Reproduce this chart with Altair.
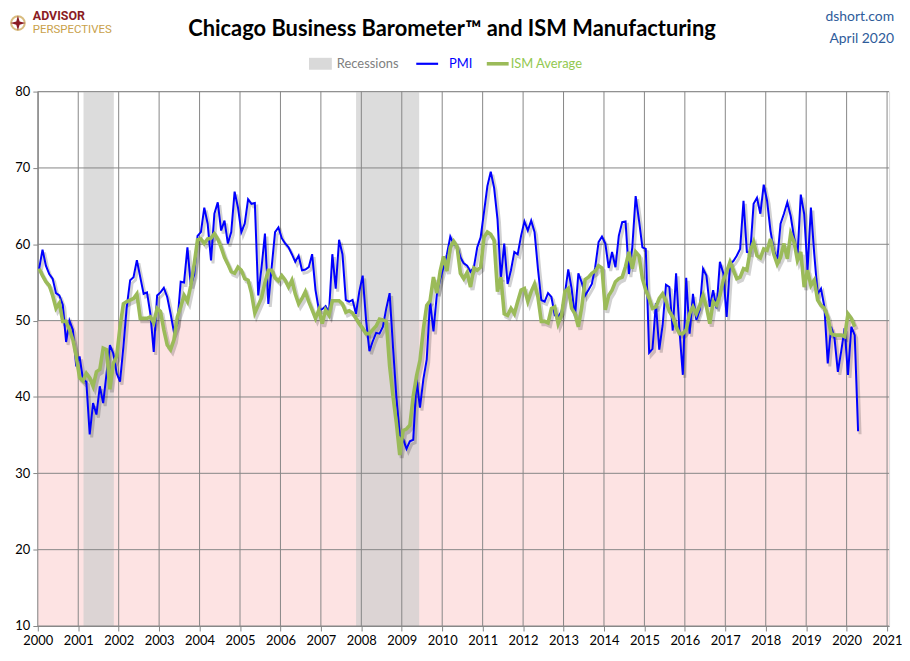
import pandas as pd
import altair as alt

# Chicago PMI, monthly from Jan 2000 (one row per year)
pmi = [
    56.8, 59.3, 57.2, 56.1, 55.5, 53.6, 53.3, 52.1, 47.2, 50.0, 48.8, 44.0,  # 2000
    45.3, 42.3, 42.0, 35.1, 39.2, 37.7, 41.4, 39.2, 43.1, 46.8, 45.7, 43.1,  # 2001
    42.0, 46.6, 51.8, 55.3, 55.7, 57.9, 55.7, 53.5, 53.7, 50.9, 45.9, 53.3,  # 2002
    53.7, 54.3, 53.1, 50.9, 48.5, 49.6, 55.1, 55.0, 59.6, 54.6, 56.0, 61.1,  # 2003
    61.6, 64.8, 62.7, 57.9, 64.0, 65.5, 61.8, 63.1, 60.1, 61.6, 66.9, 64.8,  # 2004
    61.6, 62.7, 65.9, 65.3, 65.4, 53.3, 57.0, 61.4, 52.2, 57.0, 61.6, 62.2,  # 2005
    60.8, 60.1, 59.6, 58.7, 57.7, 58.5, 56.6, 56.7, 57.0, 58.7, 54.0, 51.4,  # 2006
    51.5, 51.9, 51.0, 58.7, 54.2, 60.6, 58.7, 52.7, 52.5, 52.7, 50.9, 53.8,  # 2007
    55.9, 50.1, 46.0, 47.3, 48.4, 48.3, 49.2, 51.6, 53.6, 46.5, 40.0, 35.0,  # 2008
    34.5, 33.2, 34.2, 34.4, 42.3, 38.6, 42.3, 44.9, 52.6, 48.6, 53.4, 55.4,  # 2009
    57.0, 58.7, 61.0, 60.0, 59.8, 58.3, 57.5, 57.2, 56.4, 57.0, 59.6, 60.9,  # 2010
    64.2, 67.6, 69.5, 67.4, 63.3, 55.5, 60.1, 54.8, 56.6, 59.0, 58.7, 61.1,  # 2011
    63.0, 61.8, 63.1, 61.6, 56.8, 52.7, 52.5, 53.6, 53.1, 50.7, 50.5, 51.2,  # 2012
    53.5, 56.7, 54.2, 50.5, 56.2, 55.0, 53.3, 54.0, 54.8, 57.0, 60.3, 61.0,  # 2013
    60.1, 56.9, 59.0, 57.0, 61.1, 62.9, 63.0, 56.1, 59.6, 66.3, 63.1, 59.6,  # 2014
    59.4, 45.8, 46.3, 52.3, 46.2, 49.4, 54.7, 54.4, 48.7, 56.2, 48.7, 42.9,  # 2015
    55.6, 48.3, 53.5, 50.1, 51.4, 56.8, 55.9, 51.8, 54.0, 51.6, 57.7, 56.2,  # 2016
    50.5, 57.4, 57.8, 58.5, 59.4, 65.7, 59.0, 58.9, 65.3, 66.1, 64.0, 67.8,  # 2017
    65.7, 61.8, 59.2, 57.9, 62.7, 64.0, 65.5, 63.7, 60.9, 58.3, 66.5, 64.0,  # 2018
    56.6, 64.8, 58.7, 53.5, 54.2, 51.8, 44.4, 49.2, 47.7, 43.3, 46.0, 49.0,  # 2019
    42.9, 49.2, 48.1, 35.5,                                                  # 2020
]

# ISM average, monthly from Jan 2000
ism = [
    56.8, 55.9, 55.1, 54.6, 53.3, 51.6, 52.3, 49.9, 49.9, 48.8, 47.5, 45.3,  # 2000
    42.5, 42.1, 43.1, 42.5, 41.4, 43.3, 43.6, 46.4, 46.2, 41.0, 44.4, 45.3,  # 2001
    49.2, 52.2, 52.5, 52.7, 52.9, 53.5, 50.3, 50.3, 50.3, 50.5, 49.7, 51.6,  # 2002
    51.2, 48.8, 46.8, 46.2, 47.5, 50.5, 51.8, 53.3, 52.5, 54.6, 57.4, 60.6,  # 2003
    60.7, 60.1, 60.7, 60.8, 61.4, 60.7, 59.6, 58.3, 57.4, 56.4, 56.2, 57.0,  # 2004
    56.6, 55.5, 55.3, 53.6, 51.0, 52.0, 53.0, 55.0, 56.6, 56.6, 55.6, 55.2,  # 2005
    55.9, 55.3, 54.4, 55.3, 53.5, 52.2, 52.9, 53.8, 52.5, 51.4, 50.3, 51.4,  # 2006
    49.6, 51.4, 50.7, 52.6, 52.6, 52.6, 52.2, 51.1, 51.3, 51.0, 50.3, 49.6,  # 2007
    49.0, 48.3, 48.3, 48.8, 49.3, 50.2, 50.1, 49.9, 44.0, 40.1, 36.6, 32.4,  # 2008
    35.6, 35.8, 36.3, 40.1, 42.8, 44.8, 48.9, 52.0, 52.6, 55.7, 53.6, 56.5,  # 2009
    58.4, 56.5, 59.6, 60.4, 59.7, 56.2, 55.5, 56.3, 54.4, 56.9, 56.6, 57.0,  # 2010
    60.9, 61.6, 61.3, 60.5, 53.8, 55.7, 50.9, 50.7, 51.6, 50.9, 52.5, 54.0,  # 2011
    54.2, 52.5, 53.8, 54.8, 53.1, 49.9, 49.9, 49.7, 51.6, 51.8, 49.6, 50.7,  # 2012
    53.8, 54.2, 51.6, 50.9, 49.2, 51.8, 55.4, 55.7, 56.2, 56.5, 57.2, 56.9,  # 2013
    51.4, 53.3, 54.0, 55.1, 55.5, 55.7, 57.1, 59.0, 56.8, 59.0, 58.5, 55.5,  # 2014
    54.0, 52.9, 51.6, 51.8, 52.9, 53.5, 52.5, 51.2, 50.5, 49.2, 48.3, 48.3,  # 2015
    48.8, 50.9, 51.8, 50.9, 52.0, 53.3, 51.8, 49.6, 52.5, 52.0, 53.3, 55.3,  # 2016
    56.4, 57.7, 56.6, 55.5, 55.7, 56.8, 56.6, 59.2, 60.3, 58.5, 58.2, 59.4,  # 2017
    59.2, 60.7, 58.7, 57.4, 58.3, 60.1, 58.1, 61.4, 60.3, 57.9, 59.0, 54.4,  # 2018
    56.6, 54.6, 55.3, 52.7, 52.0, 51.6, 50.5, 48.3, 48.1, 48.1, 48.1, 47.9,  # 2019
    50.9, 50.3, 49.2,                                                        # 2020
]

recession_start = [2001.13, 2007.87]
recession_end = [2001.88, 2009.43]

year_ticks = list(range(2000, 2022))
value_ticks = list(range(10, 90, 10))
x_min, x_max = 2000, 2021.05
y_min, y_max = 10, 80
contraction_top = 50

FONT = "Lato"

def month_pos(n):
    return [2000 + (i + 0.4) / 12 for i in range(n)]

pmi_df = pd.DataFrame({"t": month_pos(len(pmi)), "value": pmi})
ism_df = pd.DataFrame({"t": month_pos(len(ism)), "value": ism})
rec_df = pd.DataFrame({"start": recession_start, "end": recession_end,
                       "lo": y_min, "hi": y_max})
pink_df = pd.DataFrame({"x0": [x_min], "x1": [x_max],
                        "y0": [y_min], "y1": [contraction_top]})
hgrid_df = pd.DataFrame({"v": value_ticks, "x0": x_min, "x1": x_max})
vgrid_df = pd.DataFrame({"yr": year_ticks, "y0": y_min, "y1": y_max})
dummy = pd.DataFrame({"a": [0]})

xs = alt.Scale(domain=[x_min, x_max], nice=False, zero=False)
ys = alt.Scale(domain=[y_min, y_max], nice=False, zero=False)

x_axis = alt.Axis(values=year_ticks, format="d", grid=False, title=None,
                  labelFont=FONT, labelFontSize=13, labelColor="#000000",
                  tickColor="#868686", domainColor="#868686", tickSize=5,
                  labelPadding=4, labelFlush=False)
y_axis = alt.Axis(values=value_ticks, grid=False, title=None,
                  labelFont=FONT, labelFontSize=13, labelColor="#000000",
                  tickColor="#868686", domainColor="#868686", tickSize=5,
                  labelPadding=3)

pink = alt.Chart(pink_df).mark_rect(color="#FDE3E3").encode(
    x=alt.X("x0:Q", scale=xs, axis=x_axis),
    x2="x1:Q",
    y=alt.Y("y0:Q", scale=ys, axis=y_axis),
    y2="y1:Q",
)

bands = alt.Chart(rec_df).mark_rect(color="#CFCFCF", opacity=0.72).encode(
    x="start:Q", x2="end:Q", y="lo:Q", y2="hi:Q"
)

hgrid = alt.Chart(hgrid_df).mark_rule(color="#868686", strokeWidth=1).encode(
    y="v:Q", x="x0:Q", x2="x1:Q"
)
vgrid = alt.Chart(vgrid_df).mark_rule(color="#868686", strokeWidth=1).encode(
    x="yr:Q", y="y0:Q", y2="y1:Q"
)

pmi_shadow = alt.Chart(pmi_df).mark_line(
    color="#000000", opacity=0.18, strokeWidth=3, xOffset=2, yOffset=3
).encode(x="t:Q", y="value:Q")
ism_shadow = alt.Chart(ism_df).mark_line(
    color="#000000", opacity=0.18, strokeWidth=4, xOffset=2, yOffset=3
).encode(x="t:Q", y="value:Q")

pmi_line = alt.Chart(pmi_df).mark_line(color="#0000FF", strokeWidth=2).encode(
    x="t:Q", y="value:Q"
)
ism_line = alt.Chart(ism_df).mark_line(color="#9BBB59", strokeWidth=3.6).encode(
    x="t:Q", y="value:Q"
)


def label(txt, x, y, size=13, color="#000000", weight="normal",
          align="left", font=FONT):
    return alt.Chart(dummy).mark_text(
        text=txt, font=font, fontSize=size, color=color, fontWeight=weight,
        align=align, baseline="middle"
    ).encode(x=alt.value(x), y=alt.value(y))


title = label("Chicago Business Barometer™ and ISM Manufacturing", 417, -63,
              size=22, weight="bold", align="center")
site = label("dshort.com", 862, -75, size=14, color="#2E5C9A", align="right")
date = label("April 2020", 862, -53, size=14, color="#2E5C9A", align="right")

logo_a = label("ADVISOR", -5, -76.5, size=12.5, color="#8B1C24", weight="bold",
               font="Roboto")
logo_b = label("PERSPECTIVES", -5, -61.5, size=11.5, color="#C9A14A",
               font="Roboto")
ring = alt.Chart(dummy).mark_point(
    shape="circle", size=190, filled=False, color="#C9A14A", strokeWidth=2
).encode(x=alt.value(-20), y=alt.value(-69))
star = alt.Chart(dummy).mark_point(
    shape="M0,-1L0.22,-0.22L1,0L0.22,0.22L0,1L-0.22,0.22L-1,0L-0.22,-0.22Z",
    size=230, filled=True, color="#8B1C24", opacity=1
).encode(x=alt.value(-20), y=alt.value(-69))

leg_rec = alt.Chart(dummy).mark_rect(color="#D9D9D9").encode(
    x=alt.value(273), x2=alt.value(296), y=alt.value(-34), y2=alt.value(-22)
)
leg_rec_t = label("Recessions", 301, -28, color="#808080")
leg_pmi = alt.Chart(dummy).mark_rule(color="#0000FF", strokeWidth=2.2).encode(
    x=alt.value(381), x2=alt.value(403), y=alt.value(-28)
)
leg_pmi_t = label("PMI", 414, -28, color="#0000FF")
leg_ism = alt.Chart(dummy).mark_rule(color="#9BBB59", strokeWidth=3.6).encode(
    x=alt.value(452), x2=alt.value(474), y=alt.value(-28)
)
leg_ism_t = label("ISM Average", 476, -28, color="#92C850")

chart = alt.layer(
    pink, bands, hgrid, vgrid, pmi_shadow, ism_shadow, pmi_line, ism_line,
    title, site, date, logo_a, logo_b, ring, star,
    leg_rec, leg_rec_t, leg_pmi, leg_pmi_t, leg_ism, leg_ism_t,
).properties(
    width=857, height=538,
    autosize=alt.AutoSizeParams(type="none"),
    padding={"left": 30, "top": 82, "right": 13, "bottom": 23},
).configure_view(stroke=None).configure(background="#FFFFFF")

chart.save("out.html", embed_options={"renderer": "svg", "actions": False})
